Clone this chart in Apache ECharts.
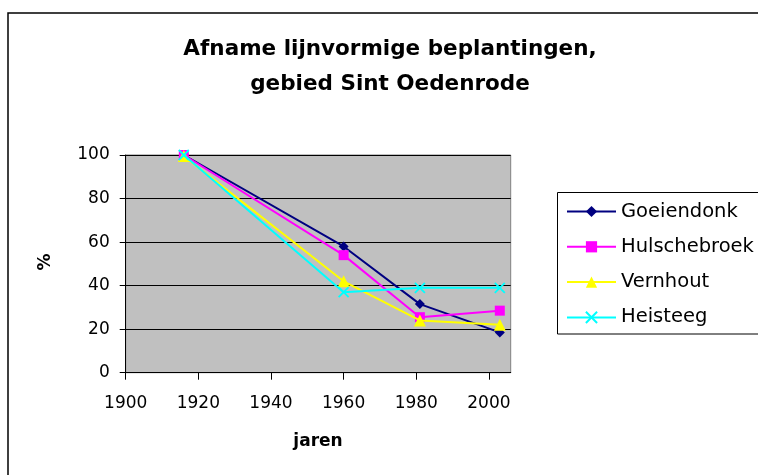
<!DOCTYPE html>
<html><head><meta charset="utf-8">
<script src="https://cdn.jsdelivr.net/npm/echarts@6/dist/echarts.min.js"></script>
<style>html,body{margin:0;padding:0;background:#fff}#c{width:758px;height:475px}</style>
</head><body><div id="c"></div>
<script>
const titleText = "Afname lijnvormige beplantingen,\ngebied Sint Oedenrode";
const years = [1916, 1960, 1981, 2003];
const xTicks = [1900, 1920, 1940, 1960, 1980, 2000];
const yTicks = [0, 20, 40, 60, 80, 100];
const goeiendonk = [100, 58, 31.5, 18.5];
const hulschebroek = [100, 54, 25.5, 28.5];
const vernhout = [99.5, 42, 24, 22];
const heisteeg = [100, 37, 39, 39];
const seriesNames = ["Goeiendonk", "Hulschebroek", "Vernhout", "Heisteeg"];
const seriesColors = ["#000080", "#FF00FF", "#FFFF00", "#00FFFF"];

const FONT = "DejaVu Sans";
const xSymbol = 'path://M0,0L10,10M10,0L0,10';
const symbols = ['diamond', 'rect', 'triangle', xSymbol];
const sizes = [10, 10, 12, 10];
const allData = [goeiendonk, hulschebroek, vernhout, heisteeg];

const chart = echarts.init(document.getElementById('c'), null, {renderer: 'canvas'});
chart.setOption({
  animation: false,
  backgroundColor: '#ffffff',
  textStyle: {fontFamily: FONT},
  title: {
    text: titleText, left: 390, top: 32, textAlign: 'center', padding: 0,
    textStyle: {fontFamily: FONT, fontSize: 21.5, fontWeight: 'bold', color: '#000', lineHeight: 35}
  },
  graphic: [
    {type: 'rect', shape: {x: 8, y: 13, width: 800, height: 500}, style: {fill: 'none', stroke: '#000', lineWidth: 1.5}, z: 0},
    {type: 'rect', shape: {x: 557.5, y: 192.5, width: 210, height: 141.5}, style: {fill: '#fff', stroke: '#000', lineWidth: 1}, z: 1},
    {type: 'text', x: 318, y: 442, style: {text: 'jaren', font: 'bold 17px "DejaVu Sans"', fill: '#000', align: 'center', verticalAlign: 'middle'}},
    {type: 'text', x: 46, y: 262, rotation: Math.PI / 2, style: {text: '%', font: 'bold 17px "DejaVu Sans"', fill: '#000', align: 'center', verticalAlign: 'middle'}}
  ],
  legend: {
    orient: 'vertical', left: 566, top: 201.5, itemWidth: 49, itemHeight: 14, itemGap: 15.3, padding: 0,
    data: seriesNames,
    textStyle: {fontFamily: FONT, fontSize: 19.5, color: '#000'},
    z: 5
  },
  grid: {left: 125.7, right: 247.3, top: 155, bottom: 102.3, show: true, backgroundColor: '#C0C0C0', borderColor: '#808080', borderWidth: 1},
  xAxis: {
    type: 'value', min: 1900, max: 2006, interval: 20,
    axisLine: {show: true, onZero: false, lineStyle: {color: '#000', width: 1}},
    axisTick: {show: true, length: 7, inside: false, customValues: xTicks, lineStyle: {color: '#000'}},
    axisLabel: {customValues: xTicks, formatter: v => String(v), margin: 22, fontFamily: FONT, fontSize: 17, color: '#000'},
    splitLine: {show: false}
  },
  yAxis: {
    type: 'value', min: 0, max: 100, interval: 20,
    axisLine: {show: true, lineStyle: {color: '#000', width: 1}},
    axisTick: {show: true, length: 6, inside: false, lineStyle: {color: '#000'}},
    axisLabel: {customValues: yTicks, formatter: v => String(v), margin: 16, fontFamily: FONT, fontSize: 17, color: '#000'},
    splitLine: {show: true, lineStyle: {color: '#000', width: 1}}
  },
  series: seriesNames.map((n, i) => ({
    name: n, type: 'line',
    data: years.map((y, j) => [y, allData[i][j]]),
    symbol: symbols[i], symbolSize: sizes[i],
    lineStyle: {color: seriesColors[i], width: 2},
    itemStyle: i === 3 ? {color: seriesColors[i], borderColor: seriesColors[i], borderWidth: 1.8} : {color: seriesColors[i], borderWidth: 0},
    z: 3 + i
  }))
});
</script></body></html>
